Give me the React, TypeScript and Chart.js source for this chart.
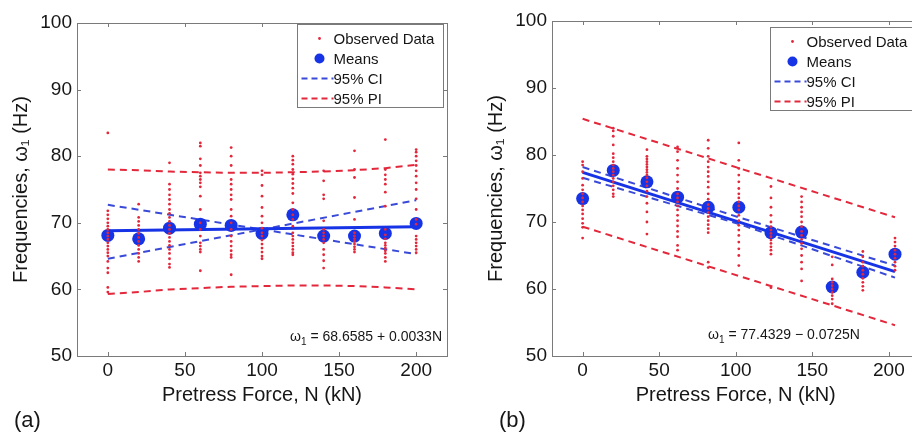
import React, { useEffect, useRef } from "react";
import { Chart, registerables } from "chart.js";

Chart.register(...registerables);

const FONT = "'Liberation Sans', Arial, Helvetica, sans-serif";
const RED = "#e3283c";
const BLUE = "#1733e6";
const CI_BLUE = "#3a4ad8";
const AXIS = "#7a7a7a";
const TEXT = "#161616";

const X_TICKS = [0, 50, 100, 150, 200];
const Y_TICKS = [50, 60, 70, 80, 90, 100];
const X_TITLE = "Pretress Force, N (kN)";
const Y_TITLE = "Frequencies, ω₁ (Hz)";
const LEGEND_LABELS = ["Observed Data", "Means", "95% CI", "95% PI"];

// ---------- Panel (a) ----------
const A_X = [0, 20, 40, 60, 80, 100, 120, 140, 160, 180, 200];
const A_OBS: number[][] = [
  [83.5, 71.8, 71.2, 70.6, 70.0, 69.5, 69.0, 68.5, 68.0, 67.5, 67.0, 66.5, 66.0, 65.5, 65.0, 64.2, 63.2, 62.5, 60.3, 59.6],
  [72.8, 70.8, 70.2, 69.6, 69.0, 68.4, 67.8, 67.2, 66.6, 66.0, 65.4, 64.8, 64.2],
  [79.0, 75.8, 75.0, 74.2, 73.5, 72.8, 72.0, 71.4, 70.8, 70.2, 69.6, 69.0, 68.4, 67.8, 67.2, 66.6, 66.0, 65.4, 64.6, 63.8, 63.3],
  [82.0, 81.5, 79.6, 78.6, 77.5, 77.0, 76.5, 76.0, 75.4, 74.0, 72.0, 70.0, 69.0, 68.0, 67.0, 66.5, 66.0, 65.6, 62.8],
  [81.3, 80.0, 78.6, 76.5, 75.8, 75.0, 74.2, 73.5, 72.0, 71.0, 70.0, 69.0, 68.0, 67.2, 66.5, 65.8, 65.2, 64.8, 62.2],
  [77.8, 77.2, 75.6, 74.0, 72.3, 71.0, 70.0, 69.2, 68.5, 68.0, 67.4, 66.8, 66.2, 65.6, 65.0, 64.6],
  [80.0, 79.4, 78.8, 78.0, 77.3, 76.6, 75.9, 75.2, 74.4, 73.0, 72.0, 71.2, 70.5, 69.5, 68.5, 68.0, 67.5, 67.0, 66.5, 66.0, 65.5, 65.2],
  [77.8, 76.3, 74.2, 73.6, 70.3, 69.0, 68.5, 68.0, 67.5, 67.0, 66.0, 65.2, 64.3, 63.2],
  [80.8, 78.0, 76.8, 73.8, 70.5, 68.5, 68.0, 67.6, 67.2, 66.8, 66.4, 66.0, 65.6],
  [82.5, 78.0, 77.2, 76.5, 75.8, 74.6, 72.5, 69.0, 68.2, 67.6, 67.0, 66.6, 66.2, 65.8, 65.4, 64.8, 64.2],
  [81.0, 80.6, 80.0, 79.3, 78.6, 77.8, 77.0, 76.0, 75.0, 73.6, 72.0, 70.5, 69.8, 68.0, 67.5, 67.0, 66.5, 66.0, 65.5],
];
const A_MEANS = [68.1, 67.6, 69.2, 69.8, 69.6, 68.4, 71.2, 68.0, 68.0, 68.4, 69.9];
const A_FIT_X = [0, 200];
const A_FIT_Y = [68.8, 69.4];
const A_CI_X = [0, 200];
const A_CI_1 = [72.7, 65.3];
const A_CI_2 = [64.6, 73.4];
const A_PI_X = [0, 20, 40, 60, 80, 100, 120, 140, 160, 180, 200];
const A_PI_UP = [78.0, 77.9, 77.7, 77.6, 77.5, 77.5, 77.6, 77.7, 77.9, 78.2, 78.7];
const A_PI_LO = [59.3, 59.6, 60.0, 60.2, 60.4, 60.5, 60.6, 60.6, 60.5, 60.3, 60.0];
const A_EQ = ["ω", "1", " = 68.6585 + 0.0033N"];
const A_TAG = "(a)";

// ---------- Panel (b) ----------
const B_X = [0, 20, 42, 62, 82, 102, 123, 143, 163, 183, 204];
const B_OBS: number[][] = [
  [79.0, 78.5, 77.5, 76.5, 75.5, 74.8, 74.2, 73.6, 73.0, 72.4, 71.8, 71.2, 70.5, 69.8, 69.2, 67.6],
  [84.0, 83.6, 82.8, 81.5, 80.2, 79.6, 79.0, 78.5, 78.0, 77.5, 77.0, 76.5, 76.0, 75.4, 74.8, 74.2, 73.8],
  [80.8, 79.8, 79.4, 79.0, 78.6, 78.2, 77.8, 77.4, 77.0, 76.6, 76.0, 75.4, 74.6, 73.8, 72.8, 71.5, 70.0, 68.2],
  [81.2, 80.5, 79.2, 78.0, 77.0, 76.0, 75.0, 74.2, 73.6, 73.0, 72.4, 71.8, 71.0, 70.2, 69.4, 68.6, 67.8, 66.5, 65.8],
  [82.2, 81.0, 79.8, 79.0, 78.2, 77.5, 76.8, 76.0, 75.2, 74.2, 73.4, 72.6, 72.0, 71.4, 70.8, 70.2, 69.6, 69.0, 68.4, 64.0, 63.2],
  [81.8, 79.2, 78.0, 77.0, 76.0, 75.0, 74.2, 73.6, 73.0, 72.4, 71.8, 71.0, 70.2, 69.5, 68.8, 68.0, 67.0, 66.0, 65.0, 63.5],
  [75.3, 73.6, 72.2, 71.0, 70.0, 69.3, 68.8, 68.3, 67.8, 67.3, 66.8, 66.3, 65.8, 65.2, 60.2],
  [73.8, 73.0, 72.2, 71.5, 70.8, 70.0, 69.3, 68.6, 68.0, 67.4, 66.8, 66.0, 65.0, 64.0, 63.0, 61.2],
  [64.8, 63.6, 61.5, 61.0, 60.5, 60.0, 59.5, 59.0, 58.5, 57.8],
  [65.6, 64.8, 64.0, 63.4, 62.8, 62.2, 61.6, 61.0, 60.4, 59.8],
  [67.6, 67.0, 66.4, 65.8, 65.2, 64.6, 64.0, 63.4, 62.8],
];
const B_MEANS = [73.5, 77.7, 76.0, 73.7, 72.2, 72.2, 68.4, 68.5, 60.3, 62.5, 65.2];
const B_FIT_X = [0, 204];
const B_FIT_Y = [77.4, 62.6];
const B_CI_X = [0, 102, 204];
const B_CI_1 = [78.2, 70.7, 63.5];
const B_CI_2 = [76.6, 69.7, 61.7];
const B_PI_X = [0, 204];
const B_PI_UP = [85.4, 70.7];
const B_PI_LO = [69.3, 54.6];
const B_EQ = ["ω", "1", " = 77.4329 − 0.0725N"];
const B_TAG = "(b)";

type Panel = {
  xs: number[];
  obs: number[][];
  means: number[];
  fitX: number[];
  fitY: number[];
  ciX: number[];
  ci1: number[];
  ci2: number[];
  piX: number[];
  piUp: number[];
  piLo: number[];
  eq: string[];
  tag: string;
};

type Geo = {
  left: number;
  width: number;
  padTop: number;
  padRight: number;
  legendTop: number;
  eqAlign: "right" | "left";
  eqX: number; // offset: from chart right (right align) or chart left (left align)
  eqY: number;
  tagX: number;
};

const pts = (xs: number[], ys: number[]) => xs.map((x, i) => ({ x, y: ys[i] }));

function buildChart(canvas: HTMLCanvasElement, p: Panel, g: Geo) {
  const obsPts: { x: number; y: number }[] = [];
  p.obs.forEach((col, i) => col.forEach((y) => obsPts.push({ x: p.xs[i], y })));

  const lineDs = (data: any, color: string, width: number, dash: number[], order: number) => ({
    type: "line" as const,
    data,
    borderColor: color,
    borderWidth: width,
    borderDash: dash,
    pointRadius: 0,
    fill: false,
    tension: 0,
    showLine: true,
    order,
  });

  const decor = {
    id: "decor",
    afterDatasetsDraw(chart: any) {
      const { ctx, chartArea: a, scales } = chart;
      ctx.save();
      ctx.strokeStyle = AXIS;
      ctx.lineWidth = 1;
      ctx.strokeRect(Math.round(a.left) + 0.5, Math.round(a.top) + 0.5, Math.round(a.right - a.left), Math.round(a.bottom - a.top));
      ctx.beginPath();
      X_TICKS.forEach((v) => {
        const x = Math.round(scales.x.getPixelForValue(v)) + 0.5;
        ctx.moveTo(x, a.bottom);
        ctx.lineTo(x, a.bottom - 4);
        ctx.moveTo(x, a.top);
        ctx.lineTo(x, a.top + 4);
      });
      Y_TICKS.forEach((v) => {
        const y = Math.round(scales.y.getPixelForValue(v)) + 0.5;
        ctx.moveTo(a.left, y);
        ctx.lineTo(a.left + 4, y);
        ctx.moveTo(a.right, y);
        ctx.lineTo(a.right - 4, y);
      });
      ctx.stroke();
      ctx.restore();
    },
    afterDraw(chart: any) {
      const { ctx, chartArea: a } = chart;
      ctx.save();
      // legend box
      const bw = 146;
      const bh = 83;
      const bx = Math.round(a.right - 4 - bw) + 0.5;
      const by = Math.round(g.legendTop) + 0.5;
      ctx.fillStyle = "#fff";
      ctx.fillRect(bx, by, bw, bh);
      ctx.strokeStyle = AXIS;
      ctx.lineWidth = 1;
      ctx.strokeRect(bx, by, bw, bh);
      ctx.font = `15px ${FONT}`;
      ctx.textBaseline = "middle";
      ctx.textAlign = "left";
      LEGEND_LABELS.forEach((label, i) => {
        const cy = by + 14 + i * 20;
        const mx = bx + 22;
        if (i === 0) {
          ctx.fillStyle = RED;
          ctx.beginPath();
          ctx.arc(mx, cy, 1.4, 0, Math.PI * 2);
          ctx.fill();
        } else if (i === 1) {
          ctx.fillStyle = BLUE;
          ctx.beginPath();
          ctx.arc(mx, cy, 5, 0, Math.PI * 2);
          ctx.fill();
        } else {
          ctx.strokeStyle = i === 2 ? CI_BLUE : RED;
          ctx.lineWidth = 2;
          ctx.setLineDash([6, 4]);
          ctx.beginPath();
          ctx.moveTo(bx + 4, cy);
          ctx.lineTo(bx + 36, cy);
          ctx.stroke();
          ctx.setLineDash([]);
        }
        ctx.fillStyle = TEXT;
        ctx.fillText(label, bx + 36, cy + 1);
      });
      // equation
      ctx.fillStyle = TEXT;
      ctx.textBaseline = "middle";
      const mainFont = `14px ${FONT}`;
      const subFont = `10px ${FONT}`;
      ctx.font = mainFont;
      const w0 = ctx.measureText(p.eq[0]).width;
      const w2 = ctx.measureText(p.eq[2]).width;
      ctx.font = subFont;
      const w1 = ctx.measureText(p.eq[1]).width;
      const total = w0 + w1 + w2;
      let x = g.eqAlign === "right" ? a.right - g.eqX - total : a.left + g.eqX;
      ctx.textAlign = "left";
      ctx.font = mainFont;
      ctx.fillText(p.eq[0], x, g.eqY);
      x += w0;
      ctx.font = subFont;
      ctx.fillText(p.eq[1], x, g.eqY + 5);
      x += w1;
      ctx.font = mainFont;
      ctx.fillText(p.eq[2], x, g.eqY);
      // panel tag
      ctx.font = `22px ${FONT}`;
      ctx.textBaseline = "middle";
      ctx.fillText(p.tag, g.tagX, 421);
      ctx.restore();
    },
  };

  return new Chart(canvas, {
    type: "scatter",
    data: {
      datasets: [
        {
          data: obsPts,
          backgroundColor: RED,
          borderWidth: 0,
          pointRadius: 1.4,
          order: 0,
        } as any,
        {
          data: pts(p.xs, p.means),
          backgroundColor: BLUE,
          borderWidth: 0,
          pointRadius: 6.5,
          order: 1,
        } as any,
        lineDs(pts(p.fitX, p.fitY), BLUE, 3, [], 2),
        lineDs(pts(p.ciX, p.ci1), CI_BLUE, 2, [7, 5], 3),
        lineDs(pts(p.ciX, p.ci2), CI_BLUE, 2, [7, 5], 3),
        lineDs(pts(p.piX, p.piUp), RED, 2, [7, 5], 4),
        lineDs(pts(p.piX, p.piLo), RED, 2, [7, 5], 4),
      ] as any,
    },
    options: {
      animation: false,
      responsive: false,
      devicePixelRatio: 1,
      layout: { padding: { top: g.padTop, right: g.padRight, left: 0, bottom: 0 } },
      plugins: { legend: { display: false }, tooltip: { enabled: false } },
      scales: {
        x: {
          type: "linear",
          min: -20,
          max: 220,
          grid: { display: false, drawTicks: false },
          border: { display: false },
          ticks: { font: { family: FONT, size: 19 }, color: TEXT, padding: 3 },
          afterBuildTicks: (s: any) => {
            s.ticks = X_TICKS.map((v) => ({ value: v }));
          },
          afterFit: (s: any) => {
            s.height = 76;
          },
          title: {
            display: true,
            text: X_TITLE,
            color: TEXT,
            font: { family: FONT, size: 20 },
            padding: { top: 0, bottom: 25 },
          },
        },
        y: {
          type: "linear",
          min: 50,
          max: 100,
          grid: { display: false, drawTicks: false },
          border: { display: false },
          ticks: { font: { family: FONT, size: 19 }, color: TEXT, padding: 5 },
          afterBuildTicks: (s: any) => {
            s.ticks = Y_TICKS.map((v) => ({ value: v }));
          },
          afterFit: (s: any) => {
            s.width = 77;
          },
          title: {
            display: true,
            text: Y_TITLE,
            color: TEXT,
            font: { family: FONT, size: 20 },
            padding: { top: 9, bottom: 0 },
          },
        },
      },
    } as any,
    plugins: [decor],
  });
}

const PANEL_A: Panel = {
  xs: A_X, obs: A_OBS, means: A_MEANS, fitX: A_FIT_X, fitY: A_FIT_Y,
  ciX: A_CI_X, ci1: A_CI_1, ci2: A_CI_2, piX: A_PI_X, piUp: A_PI_UP, piLo: A_PI_LO,
  eq: A_EQ, tag: A_TAG,
};
const PANEL_B: Panel = {
  xs: B_X, obs: B_OBS, means: B_MEANS, fitX: B_FIT_X, fitY: B_FIT_Y,
  ciX: B_CI_X, ci1: B_CI_1, ci2: B_CI_2, piX: B_PI_X, piUp: B_PI_UP, piLo: B_PI_LO,
  eq: B_EQ, tag: B_TAG,
};

const GEO_A: Geo = { left: 0, width: 456, padTop: 23, padRight: 9, legendTop: 24, eqAlign: "right", eqX: 5, eqY: 337, tagX: 14 };
const GEO_B: Geo = { left: 475, width: 451, padTop: 21, padRight: 6, legendTop: 27, eqAlign: "left", eqX: 156, eqY: 335, tagX: 24 };

function PanelChart({ panel, geo }: { panel: Panel; geo: Geo }) {
  const ref = useRef<HTMLCanvasElement | null>(null);
  useEffect(() => {
    if (!ref.current) return;
    const chart = buildChart(ref.current, panel, geo);
    return () => chart.destroy();
  }, [panel, geo]);
  return (
    <canvas
      ref={ref}
      width={geo.width}
      height={432}
      style={{ position: "absolute", left: geo.left, top: 0, width: geo.width, height: 432 }}
    />
  );
}

export default function App() {
  return (
    <div
      style={{
        position: "fixed",
        left: 0,
        top: 0,
        width: 912,
        height: 432,
        overflow: "hidden",
        background: "#fff",
      }}
    >
      <PanelChart panel={PANEL_A} geo={GEO_A} />
      <PanelChart panel={PANEL_B} geo={GEO_B} />
    </div>
  );
}
